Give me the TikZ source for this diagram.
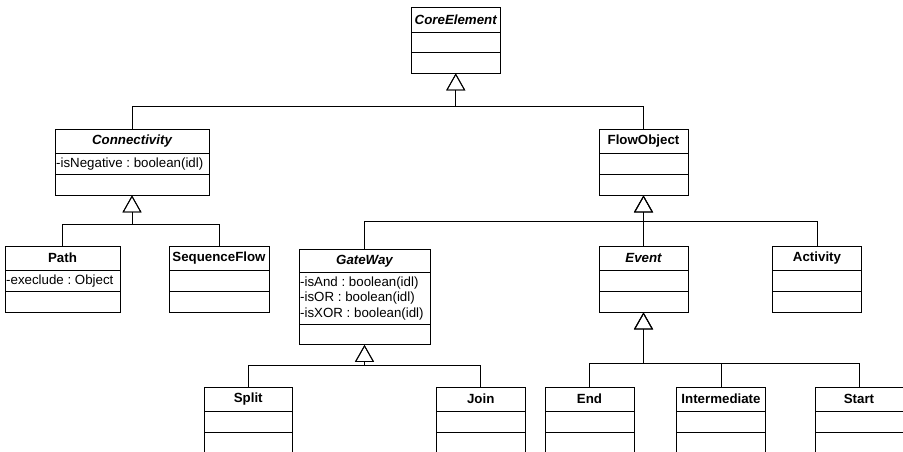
\documentclass[tikz,border=0pt]{standalone}
\usepackage{fontspec}
\setmainfont{Liberation Sans}
\usetikzlibrary{arrows.meta,fit,calc}
\frenchspacing
\tikzset{
  classbox/.style={draw, line width=0.9pt, inner sep=0pt},
  septline/.style={line width=0.9pt},
  titletext/.style={inner sep=0pt, font=\fontsize{13.3}{15}\selectfont\bfseries},
  attrtext/.style={inner xsep=1pt, inner ysep=0pt, align=left, anchor=west, font=\fontsize{13.3}{15.5}\selectfont},
  gen/.style={line width=0.8pt, -{Triangle[open, width=19pt, length=17pt, line width=0.9pt]}},
}
\newcommand{\umlclass}[9]{%
  \coordinate (#1-nw) at (#2,#4);
  \coordinate (#1-se) at (#3,#7);
  \node[classbox, fit=(#1-nw)(#1-se)] (#1) {};
  \draw[septline] (#2,#5) -- (#3,#5);
  \draw[septline] (#2,#6) -- (#3,#6);
  \node[titletext] (#1-t) at ($(#2,#4)!0.5!(#3,#5)$) {#8};
  \node[attrtext] (#1-a) at ($(#2,#5)!0.5!(#2,#6)$) {#9};
}
\begin{document}
\begin{tikzpicture}[x=1pt,y=-1pt]
\useasboundingbox (0,0) rectangle (903,452);
\clip (0,0) rectangle (903,452);
% classes
\umlclass{core}{411}{500.5}{7}{32}{52.5}{73}{\itshape CoreElement}{}
\umlclass{conn}{55}{209}{129}{153.5}{174}{195}{\itshape Connectivity}{-isNegative : boolean(idl)}
\umlclass{flow}{599}{688}{129}{153.5}{174}{195}{FlowObject}{}
\umlclass{path}{5}{120}{246}{270}{291.5}{312.5}{Path}{-execlude : Object}
\umlclass{seq}{169}{269}{246}{270}{291.5}{312}{SequenceFlow}{}
\umlclass{gate}{299}{430}{249.5}{272.5}{324}{344.5}{\itshape GateWay}{-isAnd : boolean(idl)\\-isOR : boolean(idl)\\-isXOR : boolean(idl)}
\umlclass{event}{599}{688}{246.5}{270}{291}{312}{\itshape Event}{}
\umlclass{act}{772.5}{861.5}{246.5}{270}{291}{312}{Activity}{}
\umlclass{split}{204}{292.5}{387}{411}{432}{470}{Split}{}
\umlclass{join}{436.5}{525}{387}{411}{432}{470}{Join}{}
\umlclass{end}{545}{634}{387}{411}{432}{470}{End}{}
\umlclass{inter}{676.5}{765.5}{387}{411}{432}{470}{Intermediate}{}
\umlclass{start}{815}{903}{387}{411}{432}{470}{Start}{}
% buses
\coordinate (b1) at (0,106);
\coordinate (b2) at (0,224);
\coordinate (b3) at (0,221);
\coordinate (b4) at (0,365.5);
\coordinate (b5) at (0,363.5);
% generalizations
\draw[gen] (conn.north) |- (core.south |- b1) -- (core.south);
\draw[gen] (flow.north) |- (core.south |- b1) -- (core.south);
\draw[gen] (path.north) |- (conn.south |- b2) -- (conn.south);
\draw[gen] (seq.north) |- (conn.south |- b2) -- (conn.south);
\draw[gen] (gate.north) |- (flow.south |- b3) -- (flow.south);
\draw[gen] (event.north) -- (flow.south);
\draw[gen] (act.north) |- (flow.south |- b3) -- (flow.south);
\draw[gen] (split.north) |- (gate.south |- b4) -- (gate.south);
\draw[gen] (join.north) |- (gate.south |- b4) -- (gate.south);
\draw[gen] (end.north) |- (event.south |- b5) -- (event.south);
\draw[gen] (inter.north) |- (event.south |- b5) -- (event.south);
\draw[gen] (start.north) |- (event.south |- b5) -- (event.south);
\end{tikzpicture}
\end{document}
